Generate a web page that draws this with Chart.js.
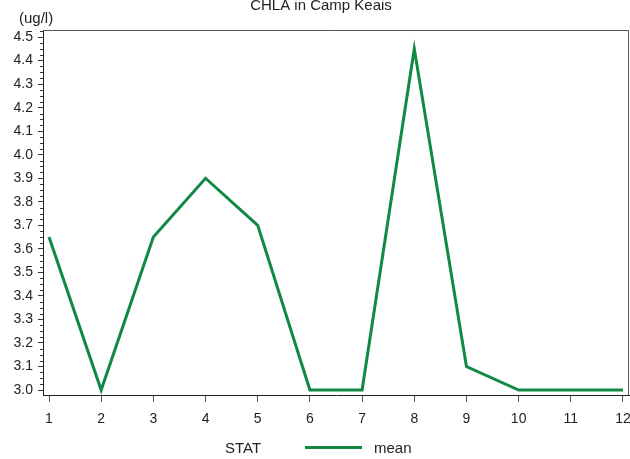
<!DOCTYPE html>
<html>
<head>
<meta charset="utf-8">
<script src="https://cdn.jsdelivr.net/npm/chart.js@4"></script>
<style>
  html, body { margin: 0; padding: 0; background: #fff; }
  #wrap { width: 630px; height: 459px; position: relative; }
</style>
</head>
<body>
<div id="wrap"><canvas id="chart"></canvas></div>
<script>
  // values
  var months = [1, 2, 3, 4, 5, 6, 7, 8, 9, 10, 11, 12];
  var meanValues = [3.65, 3.0, 3.65, 3.9, 3.7, 3.0, 3.0, 4.45, 3.1, 3.0, 3.0, 3.0];
  var yTicks = [3.0, 3.1, 3.2, 3.3, 3.4, 3.5, 3.6, 3.7, 3.8, 3.9, 4.0, 4.1, 4.2, 4.3, 4.4, 4.5];
  var xTicks = months;

  var chartTitle = 'CHLA in Camp Keais';
  var yUnit = '(ug/l)';
  var legendTitle = 'STAT';
  var seriesName = 'mean';

  var lineColor = '#0f8944';
  var textColor = '#222';
  var bigFont = '15px "Liberation Sans", Arial, sans-serif';

  Chart.defaults.font.family = '"Liberation Sans", Arial, sans-serif';
  Chart.defaults.font.size = 13;
  Chart.defaults.color = textColor;

  var extras = {
    id: 'extras',
    afterDraw: function(chart) {
      var ctx = chart.ctx;
      var area = chart.chartArea;
      var y = chart.scales.y;
      ctx.save();

      // top and right frame
      ctx.strokeStyle = '#555';
      ctx.lineWidth = 1;
      ctx.beginPath();
      ctx.moveTo(area.left, area.top + 0.5);
      ctx.lineTo(area.right - 0.5, area.top + 0.5);
      ctx.lineTo(area.right - 0.5, area.bottom);
      ctx.stroke();

      // minor ticks on the y axis
      ctx.strokeStyle = '#333';
      ctx.beginPath();
      for (var i = 0; i <= 61; i++) {
        if (i % 4 == 0) continue;
        var v = 3.0 + i * 0.025;
        if (v > y.max) break;
        var py = Math.round(y.getPixelForValue(v)) + 0.5;
        ctx.moveTo(area.left - 3, py);
        ctx.lineTo(area.left, py);
      }
      ctx.stroke();

      ctx.fillStyle = textColor;
      ctx.font = bigFont;
      ctx.textBaseline = 'alphabetic';

      ctx.textAlign = 'center';
      ctx.fillText(chartTitle, 321, 10);

      ctx.textAlign = 'left';
      ctx.fillText(yUnit, 19, 23);

      // legend
      ctx.fillText(legendTitle, 225, 453);
      ctx.strokeStyle = lineColor;
      ctx.lineWidth = 3;
      ctx.beginPath();
      ctx.moveTo(305, 447.5);
      ctx.lineTo(362, 447.5);
      ctx.stroke();
      ctx.fillText(seriesName, 374, 453);

      ctx.restore();
    }
  };

  var ctx = document.getElementById('chart');
  var chart = new Chart(ctx, {
    type: 'line',
    data: {
      datasets: [{
        label: seriesName,
        data: months.map(function(m, i) { return { x: m, y: meanValues[i] }; }),
        borderColor: lineColor,
        borderWidth: 3,
        pointRadius: 0,
        tension: 0,
        fill: false
      }]
    },
    options: {
      responsive: true,
      maintainAspectRatio: false,
      animation: false,
      layout: { padding: { top: 30, right: 1, left: 0, bottom: 0 } },
      plugins: {
        legend: { display: false },
        title: { display: false },
        tooltip: { enabled: false }
      },
      scales: {
        x: {
          type: 'linear',
          min: 0.885,
          max: 12.115,
          afterBuildTicks: function(s) {
            s.ticks = xTicks.map(function(v) { return { value: v }; });
          },
          afterFit: function(s) {
            s.height = 64;
            s.paddingLeft = 0;
            s.paddingRight = 0;
          },
          grid: { drawOnChartArea: false, drawTicks: true, tickLength: 7, tickColor: '#555' },
          border: { display: true, color: '#222', width: 1 },
          ticks: { padding: 9, maxRotation: 0, autoSkip: false, color: textColor, font: { size: 14 } }
        },
        y: {
          type: 'linear',
          min: 2.979,
          max: 4.53,
          afterBuildTicks: function(s) {
            s.ticks = yTicks.map(function(v) { return { value: v }; });
          },
          afterFit: function(s) {
            s.width = 43;
            s.paddingTop = 0;
            s.paddingBottom = 0;
          },
          grid: { drawOnChartArea: false, drawTicks: true, tickLength: 5, tickColor: '#333' },
          border: { display: true, color: '#222', width: 1 },
          ticks: {
            padding: 5,
            autoSkip: false,
            color: textColor,
            font: { size: 14 },
            callback: function(v) { return v.toFixed(1); }
          }
        }
      }
    },
    plugins: [extras]
  });
</script>
</body>
</html>
